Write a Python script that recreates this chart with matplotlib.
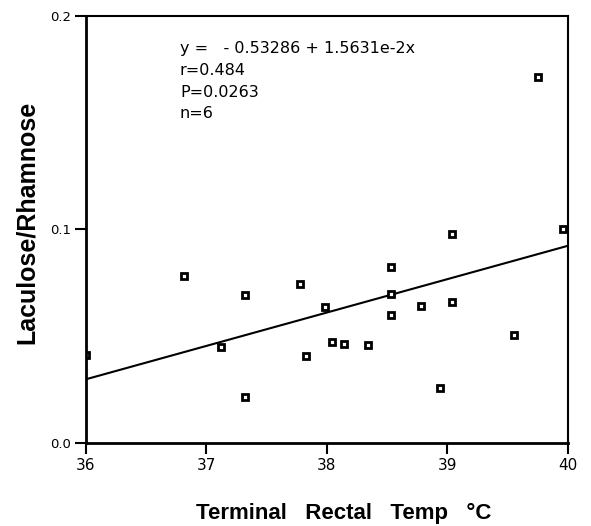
import numpy as np
import matplotlib
matplotlib.use("Agg")
import matplotlib.pyplot as plt

plt.rcParams['font.family'] = ['Liberation Sans', 'DejaVu Sans']

# ----------------------------- data -----------------------------
temp = [36.0, 36.81, 37.32, 37.12, 37.32, 37.78, 37.98, 37.83, 38.04, 38.14, 38.34,
        38.53, 38.53, 38.53, 38.78, 39.04, 39.04, 38.94, 39.55, 39.96, 39.75]
ratio = [0.0412, 0.0781, 0.0693, 0.0448, 0.0214, 0.0743, 0.0638, 0.0407, 0.0471, 0.0464,
         0.0457, 0.0824, 0.0696, 0.0601, 0.0642, 0.0977, 0.0659, 0.0258, 0.0507, 0.1002,
         0.1713]

intercept = -0.53286
slope = 1.5631e-2

x_ticks = [36, 37, 38, 39, 40]
x_ticklabels = ['36', '37', '38', '39', '40']
y_ticks = [0.0, 0.1, 0.2]
y_ticklabels = ['0.0', '0.1', '0.2']

stats_lines = ['y =   - 0.53286 + 1.5631e-2x', 'r=0.484', 'P=0.0263', 'n=6']

# ----------------------------- plot -----------------------------
fig = plt.figure(figsize=(5.91, 5.26), dpi=100)
ax = fig.add_axes([0.1455, 0.1578, 0.8155, 0.8118])

xfit = np.array([36, 40])
ax.plot(xfit, intercept + slope * xfit, color='black', lw=1.5)
ax.plot(temp, ratio, linestyle='none', marker='s', markersize=3.8,
        markerfacecolor='white', markeredgecolor='black', markeredgewidth=2.0)

ax.set_xlim(36, 40)
ax.set_ylim(0, 0.2)
ax.set_xticks(x_ticks)
ax.set_xticklabels(x_ticklabels, fontsize=11, family='DejaVu Sans')
ax.set_yticks(y_ticks)
ax.set_yticklabels(y_ticklabels, fontsize=9.5, family='DejaVu Sans')
ax.tick_params(direction='out', length=8, width=1.5, pad=3)

for side in ['left', 'bottom']:
    ax.spines[side].set_linewidth(2)
for side in ['top', 'right']:
    ax.spines[side].set_linewidth(1.5)

baselines = [0.9133, 0.8618, 0.8103, 0.7611]
for txt, yb in zip(stats_lines, baselines):
    ax.text(0.195, yb, txt, transform=ax.transAxes, fontsize=11.5,
            family='DejaVu Sans', va='baseline')

ax.set_xlabel('Terminal   Rectal   Temp   °C', fontsize=16, fontweight='bold', va='center')
ax.xaxis.set_label_coords(0.535, -0.164)
ax.set_ylabel('Laculose/Rhamnose', fontsize=18, fontweight='bold', va='center')
ax.yaxis.set_label_coords(-0.1224, 0.5176)

fig.savefig('out.png', dpi=100)
